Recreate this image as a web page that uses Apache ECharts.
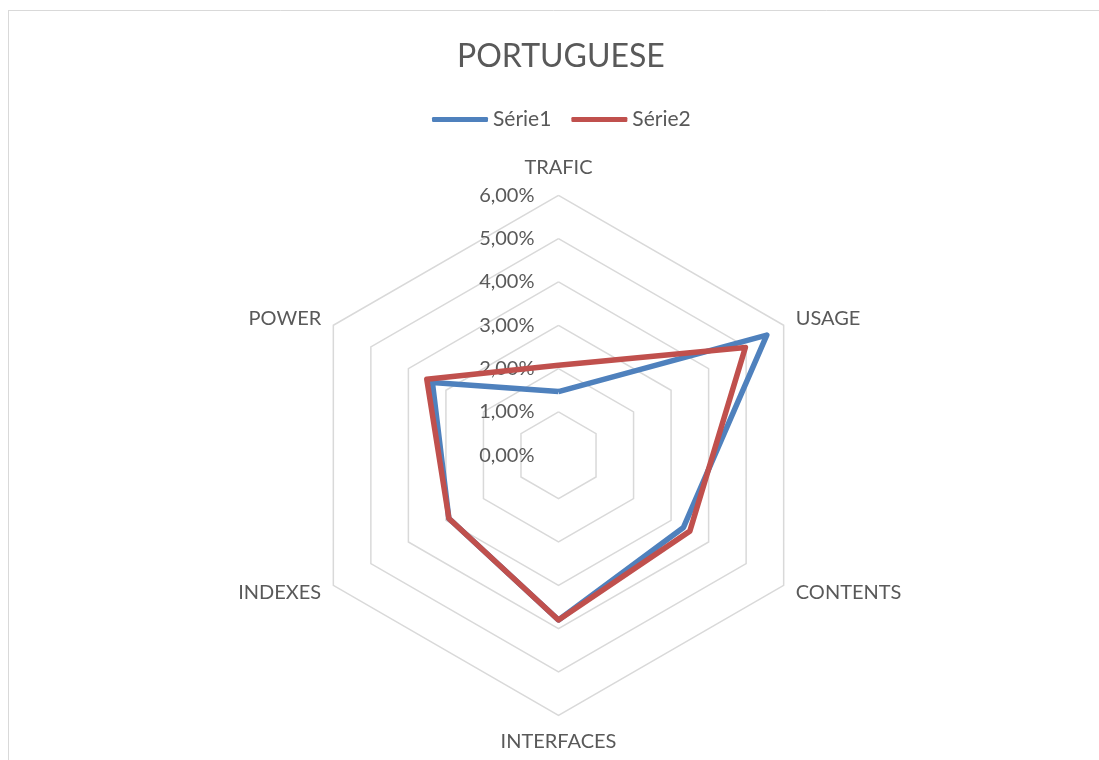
<!DOCTYPE html>
<html>
<head>
<meta charset="utf-8">
<script src="https://cdn.jsdelivr.net/npm/echarts@6/dist/echarts.min.js"></script>
<style>
  html, body { margin: 0; padding: 0; background: #fff; }
  #main { width: 1099px; height: 760px; }
</style>
</head>
<body>
<div id="main"></div>
<script>
// axes of the radar, clockwise from the top
var categories = ['TRAFIC', 'USAGE', 'CONTENTS', 'INTERFACES', 'INDEXES', 'POWER'];
// values in percent
var serie1 = [1.47, 5.55, 3.33, 3.80, 2.92, 3.36];
var serie2 = [2.08, 4.98, 3.50, 3.80, 2.92, 3.51];
var seriesNames = ['Série1', 'Série2'];
var tickMax = 6;

// echarts radar goes counter-clockwise, so walk the axes in reverse after the first
var order = [0, 5, 4, 3, 2, 1];
function pick(arr) {
  return order.map(function (i) { return arr[i]; });
}

var chart = echarts.init(document.getElementById('main'));

function fmtPct(v) {
  return v.toFixed(2).replace('.', ',') + '%';
}

var option = {
  backgroundColor: '#fff',
  color: ['#4f81bd', '#c0504d'],
  title: {
    text: 'PORTUGUESE',
    left: 452,
    top: 36,
    textStyle: { fontFamily: 'Lato', fontSize: 32, fontWeight: 'normal', color: '#595959' }
  },
  legend: {
    top: 104,
    left: 427,
    icon: 'roundRect',
    itemWidth: 56,
    itemHeight: 5,
    itemGap: 20,
    textStyle: { fontFamily: 'Lato', fontSize: 21, color: '#595959' },
    data: seriesNames
  },
  graphic: [
    { type: 'line', shape: { x1: 8, y1: 10.5, x2: 1099, y2: 10.5 }, style: { stroke: '#d9d9d9', lineWidth: 1 } },
    { type: 'line', shape: { x1: 8.5, y1: 10, x2: 8.5, y2: 760 }, style: { stroke: '#d9d9d9', lineWidth: 1 } }
  ],
  radar: {
    center: [558.5, 455.3],
    radius: 260,
    startAngle: 90,
    shape: 'polygon',
    splitNumber: 6,
    nameGap: 14,
    axisName: { fontFamily: 'Lato', fontSize: 20, color: '#595959', padding: [2, 0, 4, 0] },
    axisLine: { show: false },
    axisTick: { show: false },
    splitArea: { show: false },
    splitLine: { lineStyle: { color: '#d9d9d9', width: 1.5 } },
    axisLabel: { show: false },
    indicator: pick(categories).map(function (c, i) {
      var ind = { name: c, min: 0, max: tickMax };
      if (i === 0) {
        ind.axisLabel = {
          show: true,
          fontFamily: 'Lato',
          fontSize: 20,
          color: '#595959',
          margin: 24,
          formatter: fmtPct
        };
      }
      return ind;
    })
  },
  series: [{
    type: 'radar',
    symbol: 'none',
    data: [
      { name: seriesNames[0], value: pick(serie1), lineStyle: { width: 5.5, color: '#4f81bd' } },
      { name: seriesNames[1], value: pick(serie2), lineStyle: { width: 5.5, color: '#c0504d' } }
    ]
  }]
};

chart.setOption(option);
</script>
</body>
</html>
